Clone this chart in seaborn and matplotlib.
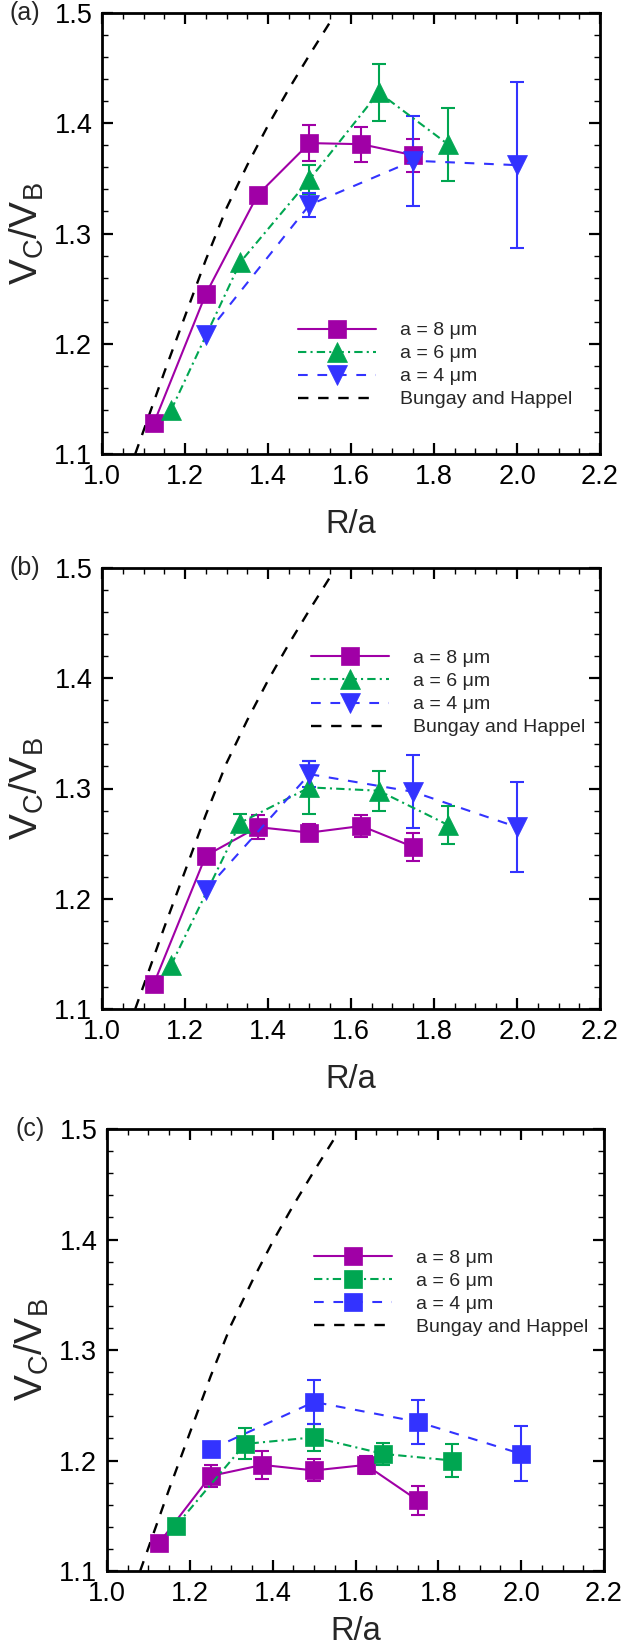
import numpy as np
import matplotlib
matplotlib.use("Agg")
import matplotlib.pyplot as plt
from matplotlib.ticker import MultipleLocator, FormatStrFormatter
import seaborn as sns

# R/a positions for each particle radius
ra_8um = [1.125, 1.25, 1.375, 1.5, 1.625, 1.75]
ra_6um = [1.1667, 1.3333, 1.5, 1.6667, 1.8333]
ra_4um = [1.25, 1.5, 1.75, 2.0]

# panel (a): Vc/Vb and error
a_vc_8 = [1.128, 1.245, 1.335, 1.382, 1.381, 1.371]
a_err_8 = [0, 0, 0, 0.016, 0.016, 0.015]
a_vc_6 = [1.140, 1.274, 1.349, 1.428, 1.381]
a_err_6 = [0, 0, 0.013, 0.026, 0.033]
a_vc_4 = [1.208, 1.326, 1.366, 1.362]
a_err_4 = [0, 0.011, 0.041, 0.0755]

# panel (b)
b_vc_8 = [1.123, 1.239, 1.265, 1.260, 1.266, 1.247]
b_err_8 = [0, 0, 0.011, 0.008, 0.010, 0.0125]
b_vc_6 = [1.140, 1.269, 1.301, 1.298, 1.267]
b_err_6 = [0, 0.008, 0.024, 0.018, 0.017]
b_vc_4 = [1.208, 1.313, 1.297, 1.265]
b_err_4 = [0, 0.012, 0.033, 0.041]

# panel (c)
c_vc_8 = [1.125, 1.186, 1.196, 1.191, 1.196, 1.164]
c_err_8 = [0, 0.010, 0.0126, 0.010, 0.008, 0.013]
c_vc_6 = [1.141, 1.215, 1.221, 1.206, 1.200]
c_err_6 = [0, 0.014, 0.012, 0.010, 0.015]
c_vc_4 = [1.210, 1.253, 1.235, 1.206]
c_err_4 = [0, 0.020, 0.020, 0.025]

# Bungay and Happel theory curve
bh_ra = [1.08, 1.10, 1.15, 1.20, 1.25, 1.30, 1.35, 1.40, 1.45, 1.50, 1.55]
bh_vc = [1.100, 1.121, 1.174, 1.225, 1.276, 1.323, 1.362, 1.398, 1.431, 1.462, 1.492]

labels = ["a = 8 \u03bcm", "a = 6 \u03bcm", "a = 4 \u03bcm", "Bungay and Happel"]

MAGENTA = "#A000A6"
GREEN = "#00A651"
BLUE = "#3333FF"

sns.set_theme(style="ticks")
plt.rcParams["font.family"] = ["Liberation Sans", "DejaVu Sans"]
plt.rcParams["mathtext.fontset"] = "custom"
plt.rcParams["mathtext.rm"] = "Liberation Sans"
plt.rcParams["lines.scale_dashes"] = False


def draw_series(ax, x, y, err, color, marker, ms, ls, label):
    x = np.asarray(x)
    y = np.asarray(y)
    err = np.asarray(err)
    m = err > 0
    ax.errorbar(x[m], y[m], yerr=err[m], fmt="none", ecolor=color,
                elinewidth=1.5, capsize=5.3, capthick=1.5, zorder=2)
    sns.lineplot(x=x, y=y, ax=ax, color=color, marker=marker, markersize=ms,
                 markeredgecolor=color, markeredgewidth=0.5, linestyle=ls,
                 linewidth=1.5, label=label, estimator=None, errorbar=None,
                 sort=False, zorder=3)


def draw_panel(ax, data, markers, tag, leg_anchor, xlab_y):
    (vc8, e8), (vc6, e6), (vc4, e4) = data
    draw_series(ax, ra_8um, vc8, e8, MAGENTA, markers[0], 13, "-", labels[0])
    draw_series(ax, ra_6um, vc6, e6, GREEN, markers[1], markers[3], (0, (6, 3, 1.5, 3)), labels[1])
    draw_series(ax, ra_4um, vc4, e4, BLUE, markers[2], markers[4], (0, (7, 7)), labels[2])
    sns.lineplot(x=bh_ra, y=bh_vc, ax=ax, color="black", linestyle=(0, (7.5, 7)),
                 linewidth=1.7, label=labels[3], estimator=None, errorbar=None, sort=False)

    ax.set_xlim(1.0, 2.2)
    ax.set_ylim(1.1, 1.5)
    ax.xaxis.set_major_locator(MultipleLocator(0.2))
    ax.xaxis.set_minor_locator(MultipleLocator(0.05))
    ax.yaxis.set_major_locator(MultipleLocator(0.1))
    ax.yaxis.set_minor_locator(MultipleLocator(0.02))
    ax.xaxis.set_major_formatter(FormatStrFormatter("%.1f"))
    ax.yaxis.set_major_formatter(FormatStrFormatter("%.1f"))
    ax.tick_params(which="both", direction="in", top=True, right=True,
                   colors="black", labelsize=19.5, pad=7)
    ax.tick_params(which="major", length=8, width=1.6)
    ax.tick_params(which="minor", length=4.5, width=1.0)
    for s in ax.spines.values():
        s.set_linewidth(2.0)
        s.set_color("black")

    ax.set_xlabel("R/a", fontsize=23.5)
    ax.set_ylabel(r"$\mathregular{V_C/V_B}$", fontsize=28)
    ax.xaxis.set_label_coords(0.5, xlab_y)
    ax.yaxis.set_label_coords(-0.112, 0.5)

    handles, _ = ax.get_legend_handles_labels()
    ax.legend(handles=handles[:4], labels=labels, loc="upper left",
              bbox_to_anchor=leg_anchor, frameon=False, fontsize=14,
              handlelength=4.0, handletextpad=1.25, labelspacing=0.28,
              borderpad=0, borderaxespad=0)

    ax.text(-0.185, 1.0, tag, transform=ax.transAxes, fontsize=18,
            ha="left", va="center")


W, H = 621, 1647
fig = plt.figure(figsize=(W / 100, H / 100), dpi=100)

ax_a = fig.add_axes([102 / W, 1 - 454 / H, 498 / W, 441 / H])
ax_b = fig.add_axes([102 / W, 1 - 1009 / H, 498 / W, 441 / H])
ax_c = fig.add_axes([107 / W, 1 - 1571 / H, 497 / W, 442 / H])

draw_panel(ax_a, [(a_vc_8, a_err_8), (a_vc_6, a_err_6), (a_vc_4, a_err_4)],
           ["s", "^", "v", 14, 14], "(a)", (0.394, 0.30), -0.124)
draw_panel(ax_b, [(b_vc_8, b_err_8), (b_vc_6, b_err_6), (b_vc_4, b_err_4)],
           ["s", "^", "v", 14, 14], "(b)", (0.42, 0.815), -0.124)
draw_panel(ax_c, [(c_vc_8, c_err_8), (c_vc_6, c_err_6), (c_vc_4, c_err_4)],
           ["s", "s", "s", 13, 13], "(c)", (0.4165, 0.728), -0.102)

fig.savefig("out.png", dpi=100)
